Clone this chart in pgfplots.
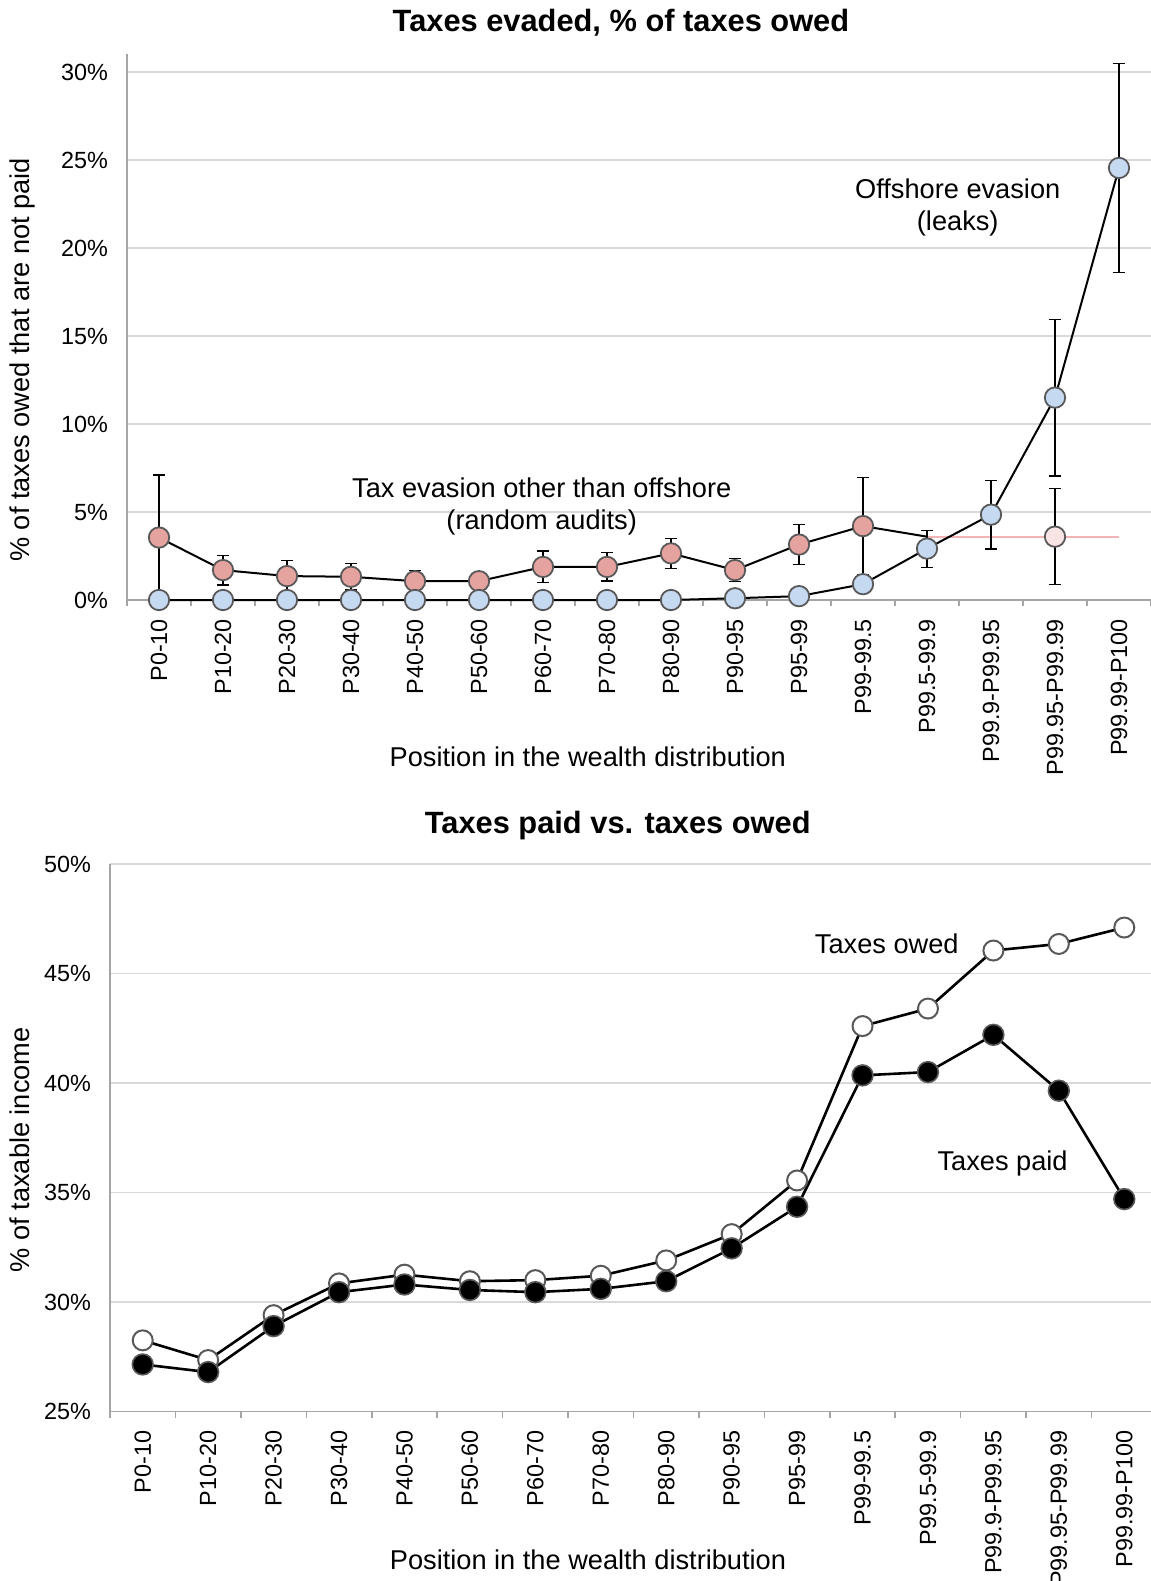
\documentclass[border=0pt]{standalone}
\usepackage{fontspec}
\setmainfont{Liberation Sans}
\usepackage{pgfplots}
\pgfplotsset{compat=1.18}
\usepackage{pgfplotstable}

\definecolor{bluefill}{RGB}{197,217,241}
\definecolor{redfill}{RGB}{229,163,160}
\definecolor{pinkfill}{RGB}{249,228,228}
\definecolor{pinkline}{RGB}{242,180,180}
\definecolor{edgegray}{RGB}{89,89,89}
\definecolor{axisgray}{RGB}{165,165,165}
\definecolor{gridgray}{RGB}{217,217,217}

\pgfplotstableread{
x y e
0 3.55 3.55
1 1.70 0.85
2 1.36 0.90
3 1.32 0.75
4 1.07 0.60
5 1.07 0.30
6 1.88 0.90
7 1.88 0.80
8 2.65 0.85
9 1.70 0.65
10 3.15 1.12
11 4.20 2.75
}\redErr

\pgfplotstableread{
x y
0 3.55
1 1.70
2 1.36
3 1.32
4 1.07
5 1.07
6 1.88
7 1.88
8 2.65
9 1.70
10 3.15
11 4.20
12 3.60
}\redTab

\pgfplotstableread{
x y
0 0
1 0
2 0
3 0
4 0
5 0
6 0
7 0
8 0
9 0.10
10 0.22
11 0.90
12 2.92
13 4.85
14 11.50
15 24.55
}\blueTab

\pgfplotstableread{
x y e
12 2.92 1.05
13 4.85 1.95
14 11.50 4.45
15 24.55 5.95
}\blueErr

\pgfplotstableread{
x y e
14 3.60 2.73
}\pinkErr

\pgfplotstableread{
x y
12 3.60
13 3.60
14 3.60
15 3.60
}\pinkLine

\pgfplotstableread{
x owed paid
0 28.25 27.15
1 27.35 26.80
2 29.40 28.90
3 30.85 30.45
4 31.25 30.80
5 30.95 30.55
6 31.00 30.45
7 31.20 30.60
8 31.90 30.95
9 33.10 32.45
10 35.55 34.35
11 42.60 40.35
12 43.40 40.50
13 46.05 42.20
14 46.35 39.65
15 47.10 34.70
}\taxTab

\pgfplotsset{
  every axis title shift=0pt,
  common/.style={
    scale only axis,
    anchor=south west,
    xmin=-0.5, xmax=15.5,
    axis lines=left,
    axis line style={-, draw=axisgray, line width=0.8pt},
    xtick={0,...,15},
    xticklabels={P0-10,P10-20,P20-30,P30-40,P40-50,P50-60,P60-70,P70-80,P80-90,P90-95,P95-99,P99-99.5,P99.5-99.9,P99.9-P99.95,P99.95-P99.99,P99.99-P100},
    minor xtick={-0.5,0.5,...,15.5},
    major tick length=0pt,
    minor tick length=3pt,
    tick align=outside,
    minor x tick style={draw=axisgray, line width=0.8pt},
    major tick style={draw=none},
    ymajorgrids,
    grid style={draw=gridgray, line width=0.7pt},
    tick label style={font=\fontsize{11.7}{14}\selectfont},
    xticklabel style={rotate=90, anchor=east, xshift=-6pt},
    yticklabel style={xshift=-6pt},
    label style={font=\fontsize{13.6}{16}\selectfont},
    title style={font=\fontsize{15.4}{18}\selectfont\bfseries, anchor=center},
    clip=false,
  },
  errstyle/.style={
    draw=none, mark=none, forget plot,
    error bars/.cd, y dir=both, y explicit,
    error bar style={draw=black, line width=0.6pt},
    error mark options={draw=black, rotate=90, mark size=2.8pt, line width=0.6pt},
  },
}

\begin{document}
\begin{tikzpicture}
\useasboundingbox (0,0) rectangle (575.5pt,-790.5pt);

% ---------- top chart ----------
\begin{axis}[common,
  at={(63.5pt,-300pt)},
  width=512pt, height=272.8pt,
  ymin=0, ymax=31,
  ytick={0,5,10,15,20,25,30},
  yticklabels={0\%,5\%,10\%,15\%,20\%,25\%,30\%},
  title={Taxes evaded, \% of taxes owed},
  title style={at={(axis description cs:0.4824,1.0587)}, anchor=center},
  xlabel={Position in the wealth distribution},
  xlabel style={at={(axis description cs:0.450,-0.2878)}, anchor=center},
  ylabel={\% of taxes owed that are not paid},
  ylabel style={at={(axis description cs:-0.1025,0.44)}, anchor=center},
]
\addplot[draw=pinkline, line width=1pt, mark=none, forget plot] table[x=x,y=y] {\pinkLine};
\addplot[errstyle] table[x=x,y=y,y error=e] {\redErr};
\addplot[errstyle] table[x=x,y=y,y error=e] {\blueErr};
\addplot[errstyle] table[x=x,y=y,y error=e] {\pinkErr};
\addplot[black, line width=1pt, mark=*, mark size=5.1pt, mark indices={1,...,12},
  mark options={fill=redfill, draw=edgegray, line width=0.9pt}] table[x=x,y=y] {\redTab};
\addplot[black, line width=1pt, mark=*, mark size=5.1pt,
  mark options={fill=bluefill, draw=edgegray, line width=0.9pt}] table[x=x,y=y] {\blueTab};
\addplot[only marks, mark=*, mark size=5.1pt,
  mark options={fill=pinkfill, draw=edgegray, line width=0.9pt}] table[x=x,y=y] {\pinkErr};
\node[align=center, font=\fontsize{13.6}{15.8}\selectfont] at (axis cs:12.48,22.3) {Offshore evasion\\(leaks)};
\node[align=center, font=\fontsize{13.6}{16}\selectfont] at (axis cs:5.98,5.3) {Tax evasion other than offshore\\(random audits)};
\end{axis}

% ---------- bottom chart ----------
\begin{axis}[common,
  at={(55pt,-705.75pt)},
  width=523.5pt, height=273.75pt,
  ymin=25, ymax=50,
  ytick={25,30,35,40,45,50},
  yticklabels={25\%,30\%,35\%,40\%,45\%,50\%},
  title={Taxes paid vs. taxes owed},
  title style={at={(axis description cs:0.485,1.070)}, anchor=center},
  xlabel={Position in the wealth distribution},
  xlabel style={at={(axis description cs:0.4565,-0.2712)}, anchor=center},
  ylabel={\% of taxable income},
  ylabel style={at={(axis description cs:-0.086,0.478)}, anchor=center},
]
\addplot[black, line width=1.3pt, mark=*, mark size=5pt,
  mark options={fill=white, draw=edgegray, line width=1pt}] table[x=x,y=owed] {\taxTab};
\addplot[black, line width=1.3pt, mark=*, mark size=5.2pt,
  mark options={fill=black, draw=edgegray, line width=0.8pt}] table[x=x,y=paid] {\taxTab};
\node[font=\fontsize{13.6}{16}\selectfont] at (axis cs:11.37,46.37) {Taxes owed};
\node[font=\fontsize{13.6}{16}\selectfont] at (axis cs:13.14,36.33) {Taxes paid};
\end{axis}
\end{tikzpicture}
\end{document}
